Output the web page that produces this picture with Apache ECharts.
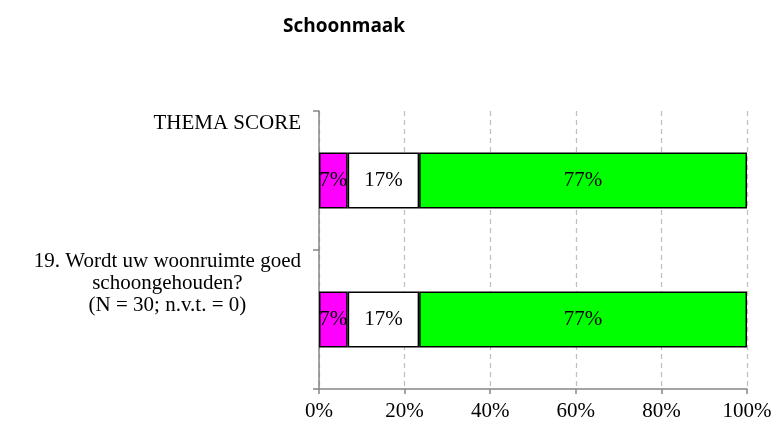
<!DOCTYPE html>
<html><head><meta charset="utf-8">
<script src="https://cdn.jsdelivr.net/npm/echarts@6/dist/echarts.min.js"></script>
<style>html,body{margin:0;padding:0;background:#fff}#c{width:777px;height:425px}</style>
</head><body><div id="c"></div>
<script>
const chartTitle = 'Schoonmaak';
const categories = ['THEMA SCORE', '19. Wordt uw woonruimte goed\nschoongehouden?\n(N = 30; n.v.t. = 0)'];
const seriesNames = ['negatief', 'neutraal', 'positief'];
const negatief = [6.7, 6.7];
const neutraal = [16.7, 16.7];
const positief = [76.6, 76.6];
const xTickValues = [0, 20, 40, 60, 80, 100];

const serif = '"Liberation Serif", "DejaVu Serif", serif';
const colors = ['#FF00FF', '#FFFFFF', '#00FF00'];
const values = [negatief, neutraal, positief];

const chart = echarts.init(document.getElementById('c'), null, {renderer: 'canvas'});
chart.setOption({
  animation: false,
  backgroundColor: '#fff',
  title: {
    text: chartTitle, left: 278, top: 12,
    textStyle: {fontFamily: '"Open Sans", "Liberation Sans", sans-serif', fontWeight: 'bold', fontSize: 19, color: '#000'}
  },
  grid: {left: 319, right: 30, top: 111, bottom: 36, containLabel: false},
  xAxis: {
    type: 'value', min: xTickValues[0], max: xTickValues[xTickValues.length - 1], interval: 20,
    axisLine: {show: true, lineStyle: {color: '#868686', width: 1.5}},
    axisTick: {show: true, length: 5, lineStyle: {color: '#868686', width: 1.5}},
    axisLabel: {formatter: '{value}%', fontFamily: serif, fontSize: 21, color: '#000', margin: 12},
    splitLine: {show: true, lineStyle: {color: '#C0C0C0', type: [5, 4], width: 1.3}}
  },
  yAxis: {
    type: 'category', inverse: true, data: categories,
    axisLine: {show: true, lineStyle: {color: '#868686', width: 1.5}},
    axisTick: {show: true, length: 6, lineStyle: {color: '#868686', width: 1.5}},
    splitLine: {show: false},
    axisLabel: {
      margin: 18, align: 'right',
      formatter: function (v) {
        const lines = v.split('\n');
        if (lines.length === 1) return '{t|' + lines[0] + '}';
        return lines.map(l => '{a|' + l + '}').join('\n') + '\n{s| }';
      },
      rich: {
        t: {fontFamily: serif, fontSize: 21, color: '#000', padding: [0, 0, 115, 0]},
        a: {fontFamily: serif, fontSize: 21, color: '#000', align: 'center', lineHeight: 22},
        s: {fontSize: 10, lineHeight: 73}
      }
    }
  },
  series: seriesNames.map((name, k) => ({
    name: name, type: 'bar', stack: 'total', barWidth: 56,
    data: values[k],
    itemStyle: {color: colors[k], borderColor: '#000', borderWidth: 1.5},
    label: {
      show: true, position: 'inside', color: '#000', fontFamily: serif, fontSize: 21,
      formatter: p => Math.round(p.value) + '%'
    }
  }))
});
</script></body></html>
